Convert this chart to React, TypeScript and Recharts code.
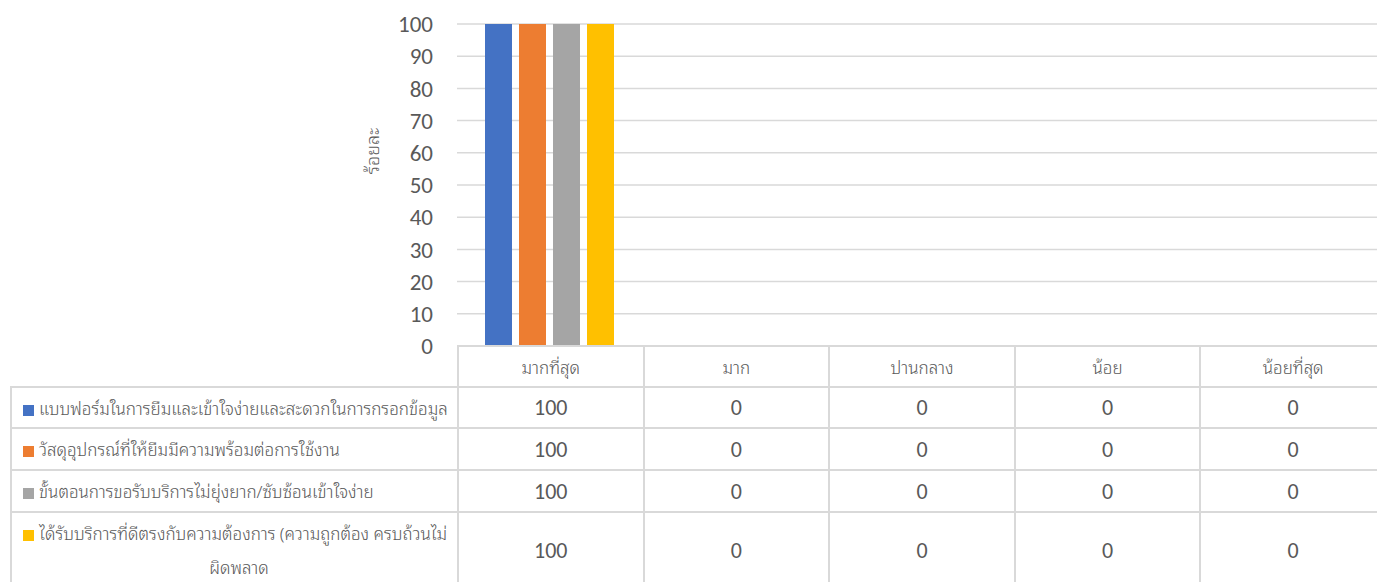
import { BarChart, Bar, XAxis, YAxis, CartesianGrid } from "recharts";

const categories = ["มากที่สุด", "มาก", "ปานกลาง", "น้อย", "น้อยที่สุด"];
const seriesNames = [
  "แบบฟอร์มในการยืมและเข้าใจง่ายและสะดวกในการกรอกข้อมูล",
  "วัสดุอุปกรณ์ที่ให้ยืมมีความพร้อมต่อการใช้งาน",
  "ขั้นตอนการขอรับบริการไม่ยุ่งยาก/ซับซ้อนเข้าใจง่าย",
  "ได้รับบริการที่ดีตรงกับความต้องการ (ความถูกต้อง ครบถ้วนไม่ผิดพลาด",
];
const formValues = [100, 0, 0, 0, 0];
const equipmentValues = [100, 0, 0, 0, 0];
const processValues = [100, 0, 0, 0, 0];
const serviceValues = [100, 0, 0, 0, 0];
const yTicks = [0, 10, 20, 30, 40, 50, 60, 70, 80, 90, 100];
const yTitle = "ร้อยละ";

const COLORS = ["#4472C4", "#ED7D31", "#A5A5A5", "#FFC000"];
const allSeries = [formValues, equipmentValues, processValues, serviceValues];

const NUM_FONT = "Carlito, 'Noto Sans Thai Looped', sans-serif";
const THAI_FONT = "'Noto Sans Thai Looped', Carlito, sans-serif";
const TEXT = "#595959";
const LINE = "2px solid #d9d9d9";

const data = categories.map((label, i) => {
  const row: any = { label };
  allSeries.forEach((vals, s) => {
    row[`s${s}`] = vals[i];
  });
  return row;
});

const rowHeights = [41, 41, 42, 42, 76];

export default function App() {
  return (
    <div
      style={{
        position: "absolute",
        left: 0,
        top: 0,
        width: 1377,
        height: 582,
        overflow: "hidden",
        background: "#fff",
        fontFamily: THAI_FONT,
        fontWeight: 300,
      }}
    >
      <BarChart
        width={1400}
        height={360}
        data={data}
        margin={{ top: 24, right: 15, left: 357, bottom: 14 }}
        barCategoryGap={28}
        barGap={7}
      >
        <CartesianGrid vertical={false} stroke="#d9d9d9" strokeWidth={1.5} />
        <XAxis dataKey="label" hide />
        <YAxis
          width={100}
          domain={[0, 100]}
          ticks={yTicks}
          interval={0}
          axisLine={false}
          tickLine={false}
          tickSize={0}
          tickMargin={24}
          tick={{ fill: TEXT, fontSize: 23, fontFamily: NUM_FONT }}
        />
        {allSeries.map((_, s) => (
          <Bar key={s} dataKey={`s${s}`} name={seriesNames[s]} fill={COLORS[s]} isAnimationActive={false} />
        ))}
      </BarChart>

      <div
        style={{
          position: "absolute",
          left: 371,
          top: 151,
          transform: "translate(-50%, -50%) rotate(-90deg)",
          fontSize: 18,
          color: TEXT,
          whiteSpace: "nowrap",
        }}
      >
        {yTitle}
      </div>

      <table
        style={{
          position: "absolute",
          left: 10,
          top: 345,
          width: 1375,
          borderCollapse: "collapse",
          tableLayout: "fixed",
          color: TEXT,
        }}
      >
        <colgroup>
          <col style={{ width: 447 }} />
          {categories.map((c) => (
            <col key={c} style={{ width: 185.6 }} />
          ))}
        </colgroup>
        <tbody>
          <tr style={{ height: rowHeights[0] }}>
            <td style={{ border: "none" }} />
            {categories.map((c) => (
              <td key={c} style={{ border: LINE, textAlign: "center", fontSize: 17, padding: 0 }}>
                {c}
              </td>
            ))}
          </tr>
          {seriesNames.map((name, s) => {
            const wrapped = s === seriesNames.length - 1;
            return (
              <tr key={name} style={{ height: rowHeights[s + 1] }}>
                <td
                  style={{
                    border: LINE,
                    fontSize: 17,
                    padding: "0 2px 0 11px",
                    textAlign: "left",
                    textAlignLast: wrapped ? "center" : "left",
                    lineHeight: "34px",
                  }}
                >
                  <span
                    style={{
                      display: "inline-block",
                      width: 11,
                      height: 11,
                      background: COLORS[s],
                      marginRight: 5,
                      verticalAlign: "-1px",
                    }}
                  />
                  {name}
                </td>
                {allSeries[s].map((v, i) => (
                  <td
                    key={i}
                    style={{ border: LINE, textAlign: "center", fontSize: 22, fontFamily: NUM_FONT, padding: 0 }}
                  >
                    {v}
                  </td>
                ))}
              </tr>
            );
          })}
        </tbody>
      </table>
    </div>
  );
}
